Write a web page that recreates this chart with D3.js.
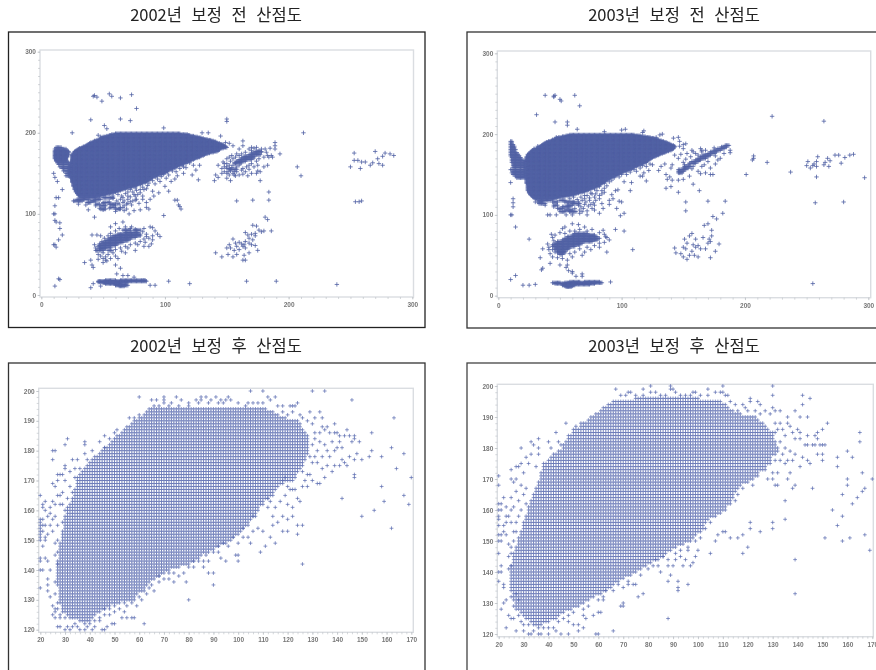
<!DOCTYPE html>
<html lang="ko">
<head>
<meta charset="utf-8">
<script src="https://cdn.jsdelivr.net/npm/d3@7"></script>
<style>
  html, body { margin: 0; padding: 0; background: #fff; overflow: hidden; }
  svg { display: block; }
  .title { font-family: "Noto Sans CJK KR", sans-serif; font-size: 16.5px; fill: #222; word-spacing: 5px; text-anchor: middle; filter: blur(0.2px); }
  .axis text { font-family: "Liberation Sans", sans-serif; font-size: 6.5px; font-weight: bold; fill: #777; }
  .axis { filter: blur(0.2px); }
  .axis line { stroke: #b9bdc2; stroke-width: 0.6; }
  .axis path { display: none; }
  .marks { filter: blur(0.4px); }
</style>
</head>
<body>
<div id="chart"></div>
<script>
// 보정 전/후 산점도. Dense areas are integer grid cells, so they are read row by row
// as [y, xFrom, xTo]; everything outside them is read as single [x, y] points.

const beforeTicks = [0, 100, 200, 300];
const beforeMinorTicks = d3.range(0, 301, 10);
const afterXTicks = [20, 30, 40, 50, 60, 70, 80, 90, 100, 110, 120, 130, 140, 150, 160, 170];
const afterYTicks = [120, 130, 140, 150, 160, 170, 180, 190, 200];
const afterXMinorTicks = d3.range(20, 171, 2);
const afterYMinorTicks = d3.range(120, 201, 2);

const before2002Rows = [
  [199, 60, 112], [198, 57, 118], [197, 55, 120], [196, 53, 123], [195, 50, 126], [194, 49, 129], [193, 48, 131], [192, 47, 134],
  [191, 45, 137], [190, 43, 139], [189, 42, 141], [188, 40, 142], [187, 39, 144], [186, 38, 146], [185, 37, 147], [184, 36, 148],
  [183, 34, 149], [182, 33, 150], [181, 31, 147], [180, 30, 144], [179, 29, 144], [178, 28, 143], [177, 27, 142], [176, 27, 139],
  [175, 26, 136], [174, 26, 134], [173, 25, 132], [172, 25, 131], [171, 25, 129], [170, 25, 128], [169, 25, 126], [168, 25, 124],
  [167, 25, 123], [166, 25, 121], [165, 25, 120], [164, 24, 118], [163, 24, 116], [162, 24, 115], [161, 24, 113], [160, 24, 112],
  [159, 24, 110], [158, 23, 109], [157, 23, 108], [156, 23, 106], [155, 23, 105], [154, 23, 103], [153, 23, 102], [152, 23, 101],
  [151, 23, 100], [150, 23, 99], [149, 23, 97], [148, 24, 95], [147, 24, 93], [146, 24, 92], [145, 24, 90], [144, 24, 89],
  [143, 25, 88], [142, 25, 87], [141, 25, 86], [140, 25, 85], [139, 25, 84], [138, 26, 82], [137, 26, 80], [136, 26, 78],
  [135, 26, 77], [134, 26, 75], [133, 27, 73], [132, 27, 70], [131, 27, 68], [130, 27, 66], [129, 28, 64], [128, 28, 62],
  [127, 28, 60], [126, 29, 58], [125, 29, 55], [124, 30, 52], [123, 30, 50], [122, 31, 47],
  [120, 32, 44], [120, 50, 58], [118, 29, 38], [118, 44, 48], [116, 27, 33], [116, 40, 44], [114, 37, 40], [114, 50, 54], [112, 44, 47], [112, 55, 60],
  [110, 48, 52], [108, 56, 59], [106, 48, 52], [106, 60, 64],
  [182, 12, 16], [180, 11, 20], [178, 11, 21], [177, 11, 22], [176, 11, 22], [175, 11, 22], [174, 11, 21], [173, 11, 22], [172, 11, 21],
  [171, 11, 21], [170, 11, 21], [169, 11, 20], [168, 11, 20], [167, 12, 20], [166, 12, 20], [165, 12, 21], [163, 13, 22], [161, 14, 24],
  [158, 15, 23], [156, 17, 23], [153, 18, 23], [150, 20, 23], [147, 20, 24],
  [77, 68, 78], [75, 62, 80], [73, 58, 80], [71, 56, 76], [69, 54, 72], [67, 52, 70], [65, 50, 66], [63, 48, 62], [61, 47, 60], [59, 47, 56], [57, 47, 52],
  [55, 44, 50], [55, 54, 57], [80, 66, 72], [80, 75, 80],
  [18, 52, 60], [18, 64, 84], [17, 46, 56], [17, 60, 85], [16, 46, 52], [16, 56, 70], [15, 50, 64], [14, 52, 60], [13, 60, 68], [12, 60, 70], [11, 63, 67],
  [177, 173, 178], [175, 170, 176], [173, 168, 177], [171, 164, 172], [169, 162, 172], [167, 160, 170], [165, 158, 165], [163, 156, 162], [155, 152, 158]
];
const before2002Points = [
  [43, 246], [42, 245], [45, 244], [49, 239], [55, 248], [57, 245], [64, 243], [73, 247], [77, 230], [40, 216], [64, 217], [72, 215],
  [51, 209], [53, 205], [99, 206], [25, 200], [46, 197], [48, 195], [150, 217], [150, 214], [145, 196], [130, 200], [135, 200], [212, 200],
  [149, 188], [152, 187], [155, 184], [163, 184], [163, 190], [170, 182], [172, 181], [176, 178], [181, 180], [185, 181], [189, 188],
  [189, 184], [189, 180], [193, 174], [187, 170], [184, 170], [178, 180], [160, 180], [158, 174], [154, 172], [150, 168], [148, 162],
  [143, 160], [146, 156], [150, 158], [152, 156], [141, 148], [140, 141], [143, 145], [150, 144], [153, 141], [157, 147], [163, 149],
  [167, 147], [175, 153], [177, 152], [174, 150], [177, 141], [180, 158], [183, 160], [207, 158], [210, 147], [127, 142], [115, 150],
  [122, 148], [125, 154], [128, 160], [115, 158], [108, 143], [110, 147], [105, 140], [100, 134], [103, 128], [95, 126], [91, 122],
  [90, 128], [110, 117], [108, 117], [111, 111], [113, 106], [112, 109], [99, 98], [85, 108], [87, 106], [80, 105], [75, 104], [71, 100],
  [67, 104], [60, 103], [55, 107], [50, 105], [47, 107], [44, 110], [38, 105], [36, 111], [30, 112], [26, 116], [34, 118], [38, 114],
  [42, 116], [46, 118], [50, 113], [55, 115], [58, 111], [62, 113], [64, 108], [67, 110], [70, 113], [73, 111], [76, 117], [79, 113],
  [82, 118], [85, 114], [88, 118], [66, 120], [70, 122], [75, 124], [80, 126], [83, 130], [86, 135], [92, 137], [96, 140], [101, 144], [43, 96],
  [11, 100], [10, 100], [11, 92], [12, 90], [15, 89], [15, 82], [17, 74], [14, 68], [11, 62], [10, 62], [12, 59], [12, 120], [14, 120],
  [11, 110], [10, 150], [11, 145], [13, 140], [17, 130], [14, 20], [15, 19], [11, 11], [184, 127], [184, 117], [171, 117], [158, 116], [254, 115],
  [257, 115], [259, 116], [253, 175], [253, 166], [256, 166], [259, 164], [262, 164], [250, 158], [258, 156], [266, 160], [268, 163],
  [273, 162], [276, 160], [276, 171], [270, 177], [272, 168], [282, 174], [285, 172], [278, 175], [181, 96], [183, 93], [186, 79], [180, 79],
  [176, 80], [173, 76], [171, 86], [174, 85], [170, 75], [165, 77], [167, 74], [168, 70], [171, 68], [165, 66], [162, 63], [160, 65], [157, 64],
  [155, 69], [152, 62], [150, 58], [153, 58], [156, 55], [160, 56], [163, 60], [165, 58], [170, 62], [173, 61], [175, 55], [168, 52], [164, 49],
  [165, 43], [163, 43], [158, 50], [155, 47], [151, 50], [146, 47], [141, 52], [158, 60], [164, 62], [168, 64], [173, 73], [178, 78],
  [41, 74], [45, 74], [48, 73], [43, 62], [35, 40], [40, 43], [41, 37], [42, 34], [46, 44], [50, 40], [53, 42], [60, 37], [64, 33], [61, 26], [66, 24],
  [70, 24], [75, 22], [83, 18], [88, 12], [92, 12], [103, 17], [120, 14], [166, 17], [190, 17], [239, 13], [40, 9], [42, 14], [48, 11], [56, 84],
  [60, 88], [66, 90], [73, 84], [83, 82], [88, 84], [90, 83], [85, 75], [90, 73], [96, 72], [89, 63], [83, 60], [76, 55], [68, 52], [62, 45], [52, 43],
  [152, 170], [155, 168], [157, 170], [160, 172], [162, 174], [165, 176], [168, 180], [170, 178], [174, 182], [178, 176], [182, 176], [186, 172], [183, 172],
  [180, 170], [176, 168], [174, 165], [170, 162], [168, 160], [166, 158], [160, 160], [158, 158], [155, 160], [152, 160], [150, 162], [147, 164], [146, 150],
  [148, 152], [150, 150], [152, 148], [155, 150], [158, 152], [162, 154], [165, 152], [168, 155], [170, 150], [172, 158], [175, 160], [150, 156], [148, 158],
  [160, 148], [163, 156], [157, 162], [153, 165], [156, 152], [153, 153], [151, 152], [156, 148], [154, 157],
  [44, 58], [46, 60], [47, 63], [49, 66], [51, 70], [54, 73], [56, 76], [60, 79], [63, 82], [68, 84], [72, 82], [76, 81], [82, 78], [85, 72], [83, 69], [80, 66],
  [76, 64], [72, 62], [68, 60], [64, 58], [60, 56], [58, 52], [54, 50], [50, 52], [48, 48], [52, 47], [46, 50], [65, 54], [70, 58], [78, 62], [84, 65], [87, 70],
  [92, 79], [94, 75], [90, 68], [87, 60], [60, 48], [56, 45], [50, 45], [45, 55],
  [58, 119], [61, 116], [64, 118], [67, 116], [70, 118], [74, 116], [77, 118], [63, 112], [66, 114], [69, 112], [72, 115], [60, 110], [63, 106], [66, 108], [69, 106],
  [58, 122], [62, 124], [65, 122], [68, 125], [72, 121], [76, 122], [74, 127], [78, 124], [82, 122], [70, 127], [77, 129], [72, 130], [80, 130], [76, 132], [82, 133],
  [85, 131], [80, 136], [87, 138], [84, 139], [90, 141], [88, 143], [94, 143], [92, 146], [97, 146], [99, 149], [103, 148], [102, 152], [106, 153], [109, 152], [108, 157],
  [112, 156], [114, 160], [117, 157], [117, 162], [120, 163], [123, 160]
];

const before2003Rows = [
  [199, 58, 110], [198, 55, 115], [197, 52, 119], [196, 49, 123], [195, 47, 126], [194, 46, 128], [193, 44, 130], [192, 43, 132],
  [191, 41, 134], [190, 39, 136], [189, 38, 137], [188, 37, 139], [187, 36, 140], [186, 35, 142], [185, 34, 143], [184, 33, 143],
  [183, 32, 142], [182, 31, 142], [181, 29, 141], [180, 28, 140], [179, 27, 138], [178, 27, 136], [177, 26, 135], [176, 25, 133],
  [175, 24, 131], [174, 24, 130], [173, 24, 128], [172, 23, 127], [171, 23, 125], [170, 23, 124], [169, 23, 123], [168, 23, 122],
  [167, 22, 121], [166, 22, 120], [165, 22, 120], [164, 22, 118], [163, 22, 116], [162, 22, 115], [161, 22, 113], [160, 22, 112],
  [159, 22, 110], [158, 22, 109], [157, 22, 108], [156, 22, 106], [155, 22, 105], [154, 22, 103], [153, 22, 101], [152, 22, 100],
  [151, 22, 98], [150, 22, 97], [149, 22, 96], [148, 22, 94], [147, 23, 93], [146, 23, 91], [145, 23, 90], [144, 23, 89],
  [143, 23, 88], [142, 23, 87], [141, 23, 86], [140, 23, 85], [139, 23, 84], [138, 24, 83], [137, 24, 82], [136, 24, 81],
  [135, 24, 80], [134, 24, 78], [133, 24, 76], [132, 24, 75], [131, 24, 73], [130, 24, 72], [129, 25, 70], [128, 25, 68],
  [127, 25, 65], [126, 26, 63], [125, 26, 61], [124, 27, 58], [123, 28, 54], [122, 28, 50], [121, 29, 47], [120, 30, 45],
  [118, 33, 42], [118, 50, 54], [116, 32, 36], [116, 44, 48], [116, 54, 62], [114, 34, 38], [114, 60, 66], [112, 45, 48], [112, 56, 60],
  [110, 52, 58], [108, 48, 52], [106, 54, 60], [104, 50, 54], [104, 58, 62],
  [191, 10, 11], [189, 10, 11], [187, 10, 12], [185, 10, 13], [183, 10, 13], [181, 10, 14], [179, 10, 13], [177, 10, 15], [175, 10, 16],
  [173, 10, 17], [171, 11, 18], [169, 11, 19], [167, 11, 21], [165, 11, 21], [163, 12, 22], [161, 12, 22], [159, 12, 22], [156, 10, 22],
  [154, 12, 22], [152, 11, 21], [150, 12, 21], [148, 14, 22], [146, 15, 22],
  [77, 62, 72], [75, 60, 78], [73, 56, 80], [71, 54, 82], [69, 52, 80], [67, 48, 76], [65, 46, 68], [63, 44, 66], [61, 44, 62], [59, 46, 58], [57, 46, 56],
  [55, 48, 54], [53, 48, 54], [51, 50, 52],
  [17, 58, 66], [17, 70, 82], [16, 44, 50], [16, 54, 84], [15, 46, 58], [15, 62, 78], [14, 52, 74], [13, 52, 62], [12, 54, 60], [11, 55, 59],
  [186, 184, 187], [184, 181, 185], [182, 178, 183], [180, 175, 180], [178, 172, 177], [176, 170, 175], [174, 166, 172], [172, 164, 170],
  [170, 162, 168], [168, 160, 164], [166, 157, 162], [164, 155, 159], [160, 151, 156], [158, 150, 154], [156, 146, 152], [154, 146, 150], [152, 146, 149]
];
const before2003Points = [
  [38, 248], [45, 247], [46, 248], [45, 246], [50, 243], [51, 241], [62, 248], [66, 235], [31, 224], [46, 215], [56, 215], [56, 211], [64, 206],
  [222, 222], [264, 216], [47, 196], [41, 191], [38, 188], [32, 185], [29, 182], [26, 178], [86, 203], [100, 205], [103, 206], [117, 202], [118, 204],
  [131, 199], [133, 200], [128, 196], [142, 195], [146, 196], [147, 191], [150, 187], [152, 188], [147, 185], [150, 182], [157, 180], [164, 182],
  [165, 180], [175, 183], [183, 176], [188, 180], [188, 177], [158, 178], [156, 172], [153, 176], [146, 170], [143, 174], [141, 162], [140, 158],
  [135, 163], [132, 160], [130, 155], [125, 162], [122, 155], [118, 152], [117, 148], [136, 150], [139, 147], [141, 143], [137, 144], [140, 135],
  [136, 133], [146, 143], [150, 144], [155, 148], [158, 138], [163, 130], [146, 128], [170, 117], [184, 117], [152, 116], [152, 105], [182, 102],
  [174, 98], [177, 95], [170, 89], [167, 87], [173, 81], [166, 72], [171, 70], [173, 74], [172, 67], [179, 64], [176, 55], [172, 47],
  [162, 62], [158, 63], [160, 70], [157, 77], [155, 74], [151, 70], [153, 65], [150, 60], [143, 59], [144, 53], [148, 52], [150, 48], [153, 45], [155, 50],
  [152, 58], [157, 55], [160, 60], [164, 58], [168, 58], [170, 65], [159, 50], [162, 48], [109, 57], [102, 80], [95, 82], [88, 54], [90, 69], [87, 73],
  [85, 81], [70, 85], [65, 88], [60, 89], [54, 85], [52, 83], [43, 76], [45, 68], [41, 57], [36, 58], [34, 47], [36, 34], [35, 32], [60, 30], [68, 24],
  [68, 27], [63, 24], [55, 35], [57, 31], [60, 28], [56, 38], [50, 38], [42, 40], [30, 14], [25, 13], [20, 13], [14, 25], [10, 20], [91, 17], [25, 70], [14, 85],
  [10, 100], [11, 100], [12, 110], [12, 115], [12, 120], [10, 140], [42, 100], [40, 100], [47, 100], [55, 100], [60, 100], [68, 104], [72, 100], [78, 106],
  [82, 102], [85, 108], [62, 108], [65, 112], [58, 104], [50, 107], [45, 110], [38, 112], [33, 114], [30, 116], [75, 113], [79, 118], [84, 114], [90, 118],
  [93, 120], [98, 117], [100, 116], [96, 108], [99, 99], [102, 102], [90, 113], [95, 130], [97, 131], [107, 130], [108, 140], [115, 148], [120, 142], [92, 125],
  [70, 120], [72, 124], [76, 126], [82, 120], [86, 128], [102, 141], [201, 150], [206, 168], [207, 170], [207, 173], [218, 165], [237, 153],
  [250, 161], [251, 166], [253, 158], [255, 161], [256, 163], [258, 160], [258, 166], [259, 172], [264, 162], [265, 165], [268, 160], [267, 170], [269, 167],
  [273, 174], [276, 174], [278, 164], [281, 171], [285, 174], [288, 175], [297, 146], [258, 147], [257, 115], [280, 116], [255, 15],
  [160, 176], [162, 174], [165, 178], [168, 180], [172, 176], [176, 173], [170, 166], [167, 162], [165, 160], [172, 158], [168, 152], [174, 150], [172, 150], [176, 163],
  [180, 170], [178, 168], [160, 164], [157, 157], [158, 160], [150, 165], [152, 169], [148, 175], [154, 162], [151, 162], [164, 151], [162, 154], [163, 168], [166, 170],
  [44, 72], [46, 75], [50, 78], [54, 77], [58, 80], [62, 80], [66, 82], [72, 80], [76, 82], [82, 78], [86, 76], [88, 72], [86, 66], [82, 65], [78, 62], [72, 60], [66, 58],
  [62, 54], [58, 52], [60, 48], [56, 44], [52, 46], [48, 47], [44, 48], [42, 52], [41, 60], [40, 64], [46, 54], [44, 57], [70, 54], [75, 57], [82, 60], [68, 50],
  [65, 116], [68, 118], [71, 116], [74, 118], [77, 115], [70, 113], [73, 111], [67, 110], [63, 104], [66, 106], [69, 108], [72, 105], [76, 108], [78, 112], [66, 102],
  [58, 120], [61, 122], [64, 119], [67, 122], [70, 124], [74, 121], [78, 122], [82, 124], [75, 127], [79, 126], [84, 126], [80, 130], [84, 130], [78, 132], [86, 133],
  [82, 135], [88, 136], [86, 139], [90, 141], [92, 143], [94, 146], [98, 147], [100, 150], [104, 150], [107, 153], [110, 156], [112, 154], [115, 158], [117, 161], [120, 160], [123, 163]
];

const after2002Rows = [
  [194, 64, 111], [193, 63, 114], [192, 62, 116], [191, 60, 119], [190, 58, 124], [189, 57, 125], [188, 56, 125], [187, 54, 126], [186, 53, 127],
  [185, 51, 128], [184, 50, 128], [183, 49, 128], [182, 48, 128], [181, 46, 128], [180, 45, 128], [179, 44, 128], [178, 43, 127], [177, 41, 127],
  [176, 40, 126], [175, 39, 126], [174, 38, 125], [173, 37, 124], [172, 36, 123], [171, 35, 122], [170, 35, 122], [169, 35, 118], [168, 35, 115],
  [167, 34, 115], [166, 34, 114], [165, 34, 113], [164, 33, 112], [163, 33, 110], [162, 32, 109], [161, 31, 108], [160, 31, 107], [159, 31, 107],
  [158, 30, 107], [157, 30, 105], [156, 30, 104], [155, 30, 103], [154, 30, 102], [153, 29, 101], [152, 29, 100], [151, 29, 98], [150, 29, 97],
  [149, 28, 95], [148, 28, 92], [147, 28, 90], [146, 28, 88], [145, 28, 85], [144, 28, 84], [143, 27, 82], [142, 27, 80], [141, 27, 76], [140, 27, 72],
  [139, 27, 70], [138, 27, 68], [137, 27, 66], [136, 27, 64], [135, 27, 63], [134, 28, 62], [133, 28, 61], [132, 28, 59], [131, 28, 58], [130, 28, 57],
  [129, 28, 52], [128, 29, 48], [127, 29, 46], [126, 29, 44], [125, 31, 42], [124, 33, 41], [123, 37, 40]
];
const after2002Points = [
  [60, 198], [65, 197], [67, 197], [70, 198], [70, 197], [70, 196], [73, 196], [75, 198], [77, 197], [80, 196], [83, 197], [85, 198], [85, 197], [87, 198],
  [89, 197], [91, 198], [93, 197], [95, 197], [96, 198], [97, 197], [66, 195], [68, 195], [72, 195], [76, 195], [80, 195], [84, 196], [88, 196], [92, 196],
  [94, 196], [100, 196], [103, 195], [104, 196], [106, 196], [108, 196], [110, 196], [112, 198], [113, 197], [115, 198], [116, 195], [118, 195], [121, 195],
  [122, 195], [123, 195], [124, 196], [105, 200], [110, 200], [130, 200], [135, 200], [146, 197], [133, 193], [134, 191], [131, 191], [129, 193], [130, 189],
  [128, 190], [126, 191], [125, 192], [118, 193], [120, 192], [122, 193], [134, 188], [136, 188], [139, 189], [135, 187], [133, 186], [131, 186], [137, 186],
  [139, 186], [140, 186], [141, 185], [143, 185], [144, 187], [145, 185], [147, 185], [147, 184], [146, 183], [149, 183], [154, 186], [163, 191], [162, 181],
  [154, 180], [153, 178], [158, 178], [167, 179], [150, 177], [148, 179], [147, 177], [145, 178], [143, 176], [142, 177], [141, 175], [139, 175], [144, 175],
  [147, 172], [147, 171], [138, 173], [135, 171], [133, 169], [132, 169], [130, 170], [128, 168], [126, 168], [136, 175], [137, 178], [139, 180], [140, 181],
  [142, 181], [141, 183], [138, 183], [135, 182], [133, 183], [131, 184], [130, 182], [132, 180], [134, 178], [136, 180], [130, 176], [132, 176], [134, 174],
  [129, 178], [131, 178], [128, 172], [127, 170], [129, 172], [164, 174], [170, 171], [158, 168], [142, 164], [167, 165], [159, 163], [169, 162], [155, 160],
  [150, 158], [162, 154], [126, 142], [80, 130], [90, 135], [115, 149], [105, 149], [109, 146], [111, 148], [113, 151], [110, 153], [108, 154], [118, 153],
  [120, 153], [124, 155], [126, 155], [124, 152], [122, 158], [118, 158], [120, 157], [116, 156], [114, 158], [120, 162], [122, 161], [115, 161], [124, 164],
  [125, 163], [122, 167], [121, 167], [123, 167], [119, 165], [117, 163], [112, 161], [113, 163], [114, 155], [106, 153], [104, 151], [102, 151], [100, 145],
  [99, 145], [100, 143], [95, 143], [93, 144], [92, 146], [90, 139], [88, 139], [86, 141], [88, 143], [84, 143], [82, 141], [78, 139], [79, 136], [76, 138],
  [74, 136], [72, 137], [70, 137], [68, 136], [66, 133], [64, 134], [62, 133], [61, 130], [59, 128], [57, 129], [55, 128], [54, 126], [58, 124], [57, 124],
  [55, 124], [53, 124], [62, 122], [50, 122], [49, 122], [47, 121], [45, 120], [46, 120], [42, 121], [41, 120], [39, 121], [38, 120], [36, 120], [35, 121],
  [33, 121], [32, 120], [30, 120], [31, 121], [28, 121], [27, 121], [26, 124], [25, 125], [26, 126], [44, 124], [46, 127], [48, 125], [50, 126], [52, 127],
  [20, 134], [20, 140], [21, 140], [20, 143], [20, 144], [22, 144], [23, 143], [24, 140], [23, 137], [23, 135], [23, 133], [24, 131], [25, 128], [26, 127],
  [20, 150], [20, 151], [20, 152], [20, 153], [20, 154], [20, 155], [20, 156], [20, 157], [21, 148], [21, 153], [21, 155], [21, 157], [22, 150], [22, 151],
  [22, 155], [23, 152], [23, 158], [24, 155], [24, 159], [25, 153], [25, 157], [26, 149], [26, 145], [27, 150], [27, 155], [27, 146], [27, 142], [26, 136],
  [26, 132], [21, 161], [21, 162], [22, 163], [22, 160], [20, 165], [24, 161], [26, 162], [25, 169], [26, 168], [27, 172], [27, 170], [27, 165], [28, 172],
  [28, 165], [28, 162], [29, 172], [29, 166], [30, 174], [30, 170], [25, 177], [25, 180], [26, 180], [30, 182], [31, 184], [30, 175], [32, 173], [33, 177],
  [34, 174], [34, 171], [35, 177], [36, 174], [38, 183], [38, 182], [38, 179], [39, 177], [41, 180], [42, 178], [44, 183], [46, 185], [46, 181], [48, 184],
  [50, 186], [51, 187], [55, 188], [56, 191], [58, 191], [60, 192], [32, 168], [30, 160], [29, 156], [33, 166], [31, 164], [29, 162], [25, 163], [26, 158],
  [98, 151], [100, 149], [102, 154], [104, 155], [106, 158], [108, 160], [110, 162], [112, 164], [114, 165], [116, 168], [118, 170], [120, 168], [119, 171], [123, 171],
  [126, 173], [96, 148], [94, 149], [92, 148], [90, 146], [87, 145], [86, 143], [82, 143], [80, 141], [74, 139], [72, 139], [68, 138], [65, 135], [63, 132], [60, 131], [58, 130],
  [54, 129], [50, 128], [48, 127], [46, 125], [44, 123], [42, 123], [40, 122], [38, 122], [36, 123], [34, 122], [32, 124], [30, 124], [28, 125], [28, 124], [27, 127], [27, 129]
];

const after2003Rows = [
  [196, 75, 100], [195, 66, 109], [194, 64, 111], [193, 62, 112], [192, 61, 114], [191, 59, 117], [190, 57, 123], [189, 56, 124], [188, 54, 126], [187, 53, 127],
  [186, 51, 128], [185, 50, 131], [184, 49, 130], [183, 48, 130], [182, 47, 131], [181, 46, 131], [180, 46, 132], [179, 44, 132], [178, 42, 131], [177, 41, 129],
  [176, 40, 129], [175, 39, 128], [174, 38, 127], [173, 38, 125], [172, 37, 124], [171, 37, 123], [170, 37, 122], [169, 36, 119], [168, 36, 117], [167, 35, 116],
  [166, 35, 115], [165, 34, 114], [164, 34, 114], [163, 33, 113], [162, 33, 112], [161, 32, 111], [160, 32, 110], [159, 32, 108], [158, 31, 106], [157, 31, 104],
  [156, 30, 103], [155, 30, 102], [154, 30, 102], [153, 29, 101], [152, 29, 99], [151, 28, 98], [150, 28, 97], [149, 28, 94], [148, 27, 91], [147, 27, 89],
  [146, 26, 87], [145, 26, 86], [144, 26, 84], [143, 26, 81], [142, 25, 79], [141, 25, 77], [140, 25, 75], [139, 25, 73], [138, 25, 70], [137, 25, 68],
  [136, 25, 66], [135, 25, 65], [134, 25, 63], [133, 26, 61], [132, 26, 58], [131, 26, 56], [130, 27, 54], [129, 27, 52], [128, 28, 49], [127, 29, 46],
  [126, 30, 44], [125, 31, 43], [124, 33, 40], [123, 34, 37]
];
const after2003Points = [
  [67, 199], [69, 197], [71, 197], [72, 198], [73, 198], [75, 197], [78, 197], [78, 199], [81, 198], [81, 200], [83, 198], [85, 197], [87, 197], [89, 200],
  [89, 199], [90, 199], [91, 198], [93, 197], [95, 197], [97, 197], [98, 198], [99, 198], [101, 197], [104, 199], [104, 197], [107, 198], [109, 198], [110, 200],
  [110, 198], [111, 197], [112, 197], [113, 195], [115, 194], [116, 192], [118, 194], [119, 193], [120, 192], [121, 196], [121, 195], [124, 195], [125, 194],
  [123, 192], [125, 191], [127, 192], [129, 191], [130, 200], [130, 197], [130, 193], [131, 192], [133, 192], [139, 192], [142, 197], [142, 194], [145, 196],
  [144, 190], [141, 190], [136, 190], [136, 188], [133, 188], [131, 188], [132, 186], [134, 186], [135, 184], [137, 187], [138, 185], [140, 186], [141, 185],
  [139, 183], [141, 183], [144, 184], [147, 184], [148, 185], [150, 186], [152, 188], [148, 183], [146, 181], [143, 181], [144, 181], [147, 181], [149, 181],
  [150, 181], [151, 181], [148, 178], [150, 178], [150, 176], [145, 175], [144, 176], [142, 177], [141, 174], [139, 178], [137, 179], [135, 180], [133, 182],
  [134, 178], [136, 176], [138, 176], [137, 172], [136, 170], [135, 175], [133, 176], [131, 176], [129, 175], [127, 173], [130, 172], [132, 172], [128, 170],
  [130, 170], [131, 168], [132, 168], [138, 167], [139, 168], [135, 163], [146, 167], [156, 177], [156, 174], [165, 185], [165, 182], [160, 179], [162, 177],
  [170, 170], [160, 170], [160, 168], [166, 172], [167, 167], [166, 166], [158, 165], [164, 164], [162, 162], [154, 160], [158, 158], [156, 155], [135, 157],
  [130, 156], [130, 154], [125, 153], [121, 156], [121, 154], [118, 152], [120, 148], [118, 146], [116, 151], [113, 151], [110, 153], [111, 153], [108, 152],
  [107, 150], [105, 146], [100, 147], [99, 145], [96, 147], [98, 143], [97, 142], [95, 144], [94, 142], [93, 145], [91, 144], [90, 142], [88, 142], [86, 145],
  [84, 142], [83, 144], [85, 140], [89, 139], [88, 137], [92, 137], [92, 135], [92, 134], [96, 136], [88, 125], [78, 133], [76, 132], [72, 136], [70, 135],
  [75, 136], [74, 136], [70, 130], [69, 129], [70, 129], [63, 134], [62, 131], [60, 127], [61, 127], [58, 126], [55, 125], [54, 126], [54, 122], [52, 123],
  [50, 123], [48, 124], [52, 121], [60, 120], [59, 120], [66, 121], [48, 120], [45, 120], [43, 121], [40, 120], [37, 120], [36, 120], [33, 120], [32, 120],
  [30, 121], [27, 121], [23, 122], [26, 125], [25, 125], [24, 126], [21, 128], [22, 130], [23, 131], [25, 132], [27, 133], [28, 131], [26, 129], [139, 144],
  [139, 133], [151, 151], [158, 150], [161, 151], [167, 152], [169, 147], [20, 137], [21, 140], [20, 140], [20, 146], [21, 142], [22, 135], [22, 136], [24, 141],
  [24, 145], [25, 146], [25, 142], [25, 148], [20, 150], [20, 152], [21, 152], [22, 153], [21, 150], [23, 152], [24, 149], [26, 150], [26, 153], [27, 153], [27, 156],
  [20, 155], [20, 157], [20, 158], [22, 155], [23, 156], [23, 158], [24, 158], [25, 160], [25, 156], [20, 160], [20, 162], [21, 160], [21, 162], [23, 161], [22, 164],
  [20, 168], [20, 171], [25, 164], [25, 170], [25, 173], [26, 169], [27, 170], [27, 174], [28, 174], [29, 175], [29, 180], [30, 172], [31, 177], [32, 175], [33, 182],
  [33, 178], [34, 181], [36, 183], [36, 180], [36, 178], [35, 174], [38, 175], [40, 182], [41, 180], [43, 185], [47, 188], [44, 182], [45, 181], [48, 184], [50, 186],
  [51, 187], [53, 188], [27, 166], [28, 163], [29, 168], [30, 165], [31, 162], [29, 160], [28, 158], [31, 167], [26, 161],
  [99, 150], [101, 151], [103, 154], [105, 156], [107, 158], [109, 159], [111, 160], [113, 162], [115, 163], [116, 165], [118, 167], [120, 169], [122, 168], [124, 171],
  [126, 173], [96, 148], [93, 147], [91, 146], [88, 144], [82, 142], [80, 141], [77, 139], [72, 137], [68, 136], [66, 134], [62, 132], [60, 131], [56, 129], [54, 128],
  [50, 127], [48, 126], [46, 125], [44, 124], [42, 122], [40, 122], [38, 122], [36, 122], [34, 121], [32, 123], [30, 123], [29, 124], [28, 126], [27, 128]
];

const svg = d3.select("#chart").append("svg").attr("width", 876).attr("height", 670);

function crossPath(points, rows, x, y, size) {
  const p = d3.path();
  const add = (a, b) => {
    const px = x(a), py = y(b);
    p.moveTo(px - size, py);
    p.lineTo(px + size, py);
    p.moveTo(px, py - size);
    p.lineTo(px, py + size);
  };
  rows.forEach(([b, from, to]) => {
    for (let a = from; a <= to; a++) add(a, b);
  });
  points.forEach(([a, b]) => add(a, b));
  return p.toString();
}

function drawPanel(o) {
  svg.append("text").attr("class", "title").attr("x", o.titleX).attr("y", o.titleY).text(o.title);

  svg.append("rect")
    .attr("x", o.plot[0]).attr("y", o.plot[1])
    .attr("width", o.plot[2] - o.plot[0]).attr("height", o.plot[3] - o.plot[1])
    .attr("fill", "#fff").attr("stroke", "#dadde1").attr("stroke-width", 1.4);

  const x = d3.scaleLinear().domain(o.xDomain).range(o.xRange);
  const y = d3.scaleLinear().domain(o.yDomain).range(o.yRange);

  svg.append("g").attr("class", "axis")
    .attr("transform", `translate(0,${o.plot[3]})`)
    .call(d3.axisBottom(x).tickValues(o.xMinor).tickSize(2).tickFormat(""));
  svg.append("g").attr("class", "axis")
    .attr("transform", `translate(${o.plot[0]},0)`)
    .call(d3.axisLeft(y).tickValues(o.yMinor).tickSize(2).tickFormat(""));
  svg.append("g").attr("class", "axis")
    .attr("transform", `translate(0,${o.plot[3]})`)
    .call(d3.axisBottom(x).tickValues(o.xTicks).tickSize(2.5).tickPadding(3).tickFormat(d3.format("d")));
  svg.append("g").attr("class", "axis")
    .attr("transform", `translate(${o.plot[0]},0)`)
    .call(d3.axisLeft(y).tickValues(o.yTicks).tickSize(2.5).tickPadding(1.5).tickFormat(d3.format("d")));

  svg.append("path")
    .attr("class", "marks")
    .attr("d", crossPath(o.points, o.rows, x, y, o.size))
    .attr("fill", "none")
    .attr("stroke", o.color)
    .attr("stroke-width", o.strokeWidth);

  // outer frame, the two right panels and the bottom row run off the page
  svg.append("rect")
    .attr("x", o.frame[0]).attr("y", o.frame[1])
    .attr("width", o.frame[2] - o.frame[0]).attr("height", o.frame[3] - o.frame[1])
    .attr("fill", "none").attr("stroke", o.frameColor).attr("stroke-width", 1.3);
}

drawPanel({
  title: "2002년 보정 전 산점도", titleX: 216, titleY: 21,
  frame: [8.5, 32, 425, 327.5], frameColor: "#222", plot: [40, 50, 413.5, 297],
  xDomain: [0, 300], xRange: [41.3, 412.3], yDomain: [0, 300], yRange: [295, 51.7],
  xTicks: beforeTicks, yTicks: beforeTicks, xMinor: beforeMinorTicks, yMinor: beforeMinorTicks,
  rows: before2002Rows, points: before2002Points, size: 2.2, strokeWidth: 0.8, color: "#5262a4"
});
drawPanel({
  title: "2003년 보정 전 산점도", titleX: 674, titleY: 21,
  frame: [467, 32, 900, 328], frameColor: "#333", plot: [497.3, 51, 870.7, 297.7],
  xDomain: [0, 300], xRange: [498.3, 868.3], yDomain: [0, 300], yRange: [295.7, 53.3],
  xTicks: beforeTicks, yTicks: beforeTicks, xMinor: beforeMinorTicks, yMinor: beforeMinorTicks,
  rows: before2003Rows, points: before2003Points, size: 2.2, strokeWidth: 0.8, color: "#5262a4"
});
drawPanel({
  title: "2002년 보정 후 산점도", titleX: 216, titleY: 352,
  frame: [8.5, 363, 425, 700], frameColor: "#333", plot: [38.7, 388.3, 413.3, 632.3],
  xDomain: [20, 170], xRange: [40.3, 411.3], yDomain: [120, 200], yRange: [629.7, 391],
  xTicks: afterXTicks, yTicks: afterYTicks, xMinor: afterXMinorTicks, yMinor: afterYMinorTicks,
  rows: after2002Rows, points: after2002Points, size: 1.9, strokeWidth: 0.7, color: "#5a6bb0"
});
drawPanel({
  title: "2003년 보정 후 산점도", titleX: 674, titleY: 352,
  frame: [467, 363, 900, 700], frameColor: "#444", plot: [497.3, 384.3, 873.3, 636.7],
  xDomain: [20, 170], xRange: [498.7, 872.3], yDomain: [120, 200], yRange: [634, 386],
  xTicks: afterXTicks, yTicks: afterYTicks, xMinor: afterXMinorTicks, yMinor: afterYMinorTicks,
  rows: after2003Rows, points: after2003Points, size: 1.9, strokeWidth: 0.7, color: "#5a6bb0"
});
</script>
</body>
</html>
